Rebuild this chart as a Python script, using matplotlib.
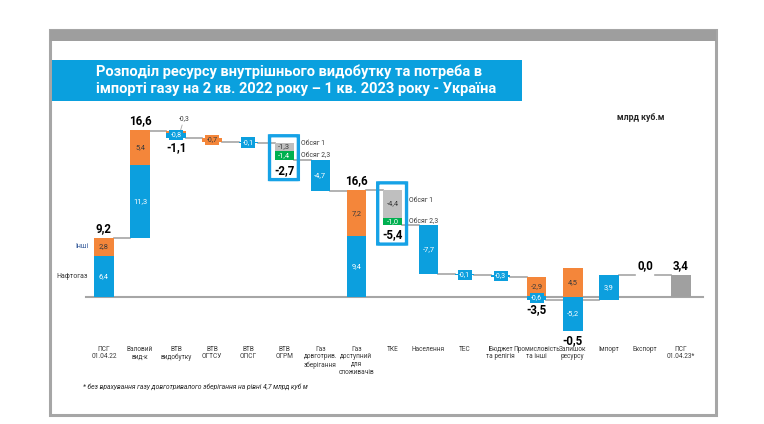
import matplotlib
matplotlib.use("Agg")
import matplotlib.pyplot as plt
from matplotlib.patches import Rectangle, FancyBboxPatch
from matplotlib.transforms import Affine2D

plt.rcParams['font.family'] = ['Roboto', 'DejaVu Sans']

# ---- data ----
categories = ['ПСГ\n01.04.22', 'Валовий\nвид-к', 'ВТВ\nвидобутку', 'ВТВ\nОГТСУ', 'ВТВ\nОПСГ',
              'ВТВ\nОГРМ', 'Газ\nдовготрив.\nзберігання', 'Газ\nдоступний\nдля\nспоживачів',
              'ТКЕ', 'Населення', 'ТЕС', 'Бюджет\nта релігія', 'Промисловість\nта інші',
              'Залишок\nресурсу', 'Імпорт', 'Експорт', 'ПСГ\n01.04.23*']

# segments of each bar, stacked in drawing order
seg_values = [[6.4, 2.8], [11.3, 5.4], [-0.3, -0.8], [-0.7], [-0.1], [-1.3, -1.4], [-4.7],
              [9.4, 7.2], [-4.4, -1.0], [-7.7], [-0.1], [-0.3], [-2.9, -0.6], [4.5, -5.2],
              [3.9], [0.0], [3.4]]
seg_groups = [['Нафтогаз', 'Інші'], ['Нафтогаз', 'Інші'], ['Інші', 'Нафтогаз'], ['Інші'],
              ['Нафтогаз'], ['Обсяг 1', 'Обсяг 2,3'], ['Нафтогаз'], ['Нафтогаз', 'Інші'],
              ['Обсяг 1', 'Обсяг 2,3'], ['Нафтогаз'], ['Нафтогаз'], ['Нафтогаз'],
              ['Інші', 'Нафтогаз'], ['Інші', 'Нафтогаз'], ['Нафтогаз'], ['Нафтогаз'], ['Підсумок']]

# net value of each step; "total" steps start from zero
net_values = [9.2, 16.6, -1.1, -0.7, -0.1, -2.7, -4.7, 16.6, -5.4, -7.7, -0.1, -0.3, -3.5,
              -0.5, 3.9, 0.0, 3.4]
is_total = [True, False, False, False, False, False, False, True, False, False, False, False,
            False, True, False, False, True]
net_labels = ['9,2', '16,6', '-1,1', None, None, '-2,7', None, '16,6', '-5,4', None, None, None,
              '-3,5', '-0,5', None, '0,0', '3,4']
highlighted = [5, 8]

title = ('Розподіл ресурсу внутрішнього видобутку та потреба в\n'
         'імпорті газу на 2 кв. 2022 року – 1 кв. 2023 року - Україна')
unit_text = 'млрд куб.м'
footnote = '* без врахування газу довготривалого зберігання на рівні 4,7 млрд куб м'

colors = {'Нафтогаз': '#0C9FDE', 'Інші': '#F4863A', 'Обсяг 1': '#BFBFBF',
          'Обсяг 2,3': '#00B050', 'Підсумок': '#A0A0A0'}
text_on = {'Нафтогаз': 'white', 'Інші': '#3A3A3A', 'Обсяг 1': '#3A3A3A',
           'Обсяг 2,3': 'white', 'Підсумок': '#3A3A3A'}

# ---- layout ----
W, H = 764, 424
X0, DX = 104, 36.06      # pixel of first category, pixels per category
Y0, DY = 297, 6.45       # pixel of zero line, pixels per unit
BW = 0.54

fig = plt.figure(figsize=(W / 100, H / 100), dpi=100)
ax = fig.add_axes([0, 0, 1, 1])
ax.set_xlim(-X0 / DX, (W - X0) / DX)
ax.set_ylim(-(H - Y0) / DY, Y0 / DY)
ax.axis('off')

px = Affine2D().scale(1 / W, -1 / H).translate(0, 1) + fig.transFigure

# frame
fig.add_artist(Rectangle((50, 30), 666, 385, transform=px, fill=False, ec='#A6A6A6', lw=2.2))
fig.add_artist(Rectangle((50, 30), 666, 11, transform=px, fc='#9E9E9E', ec='none'))
# title
fig.add_artist(Rectangle((52, 60), 470, 41, transform=px, fc='#0AA0DE', ec='none'))
fig.text(96 / W, 1 - 80.5 / H, title, color='white', fontsize=10.5, fontweight='bold',
         va='center', ha='left', linespacing=1.3)
fig.text(641 / W, 1 - 118 / H, unit_text, fontsize=6.3, fontweight='bold', color='#262626',
         ha='center', va='center')
fig.text(83 / W, 1 - 387 / H, footnote, fontsize=4.9, style='italic', color='#262626',
         ha='left', va='center')

# zero line
ax.plot([-0.5, 16.6], [0, 0], color='#A6A6A6', lw=1.5, zorder=1)

level = 0.0
levels = []
spans = []
for i, (vals, groups) in enumerate(zip(seg_values, seg_groups)):
    start = 0.0 if is_total[i] else level
    up = down = cur = start
    lo = hi = start
    for v, g in zip(vals, groups):
        if is_total[i]:
            # totals: positive parts go up from zero, negative parts go down
            if v >= 0:
                b, up = up, up + v
            else:
                b, down = down, down + v
        else:
            b, cur = cur, cur + v
        lo, hi = min(lo, b, b + v), max(hi, b, b + v)
        if v == 0:
            continue
        ax.bar(i, v, bottom=b, width=BW, color=colors[g], lw=0, zorder=3)
        if g == 'Підсумок':
            continue
        mid = b + v / 2
        lab = f'{v:.1f}'.replace('.', ',')
        if i == 2 and g == 'Інші':
            ax.annotate(lab, (i + 0.12, b), xytext=(i + 0.22, b + 1.3), fontsize=4.9,
                        color='#3A3A3A', ha='center', va='bottom',
                        arrowprops=dict(arrowstyle='-', color='#A6A6A6', lw=0.6,
                                        shrinkA=0, shrinkB=0))
        elif abs(v) < 0.95:
            ax.text(i, mid, lab, fontsize=5.0, color=text_on[g], ha='center', va='center',
                    zorder=5, bbox=dict(boxstyle='square,pad=0.22', fc=colors[g], ec='none'))
        else:
            ax.text(i, mid, lab, fontsize=5.4, color=text_on[g], ha='center', va='center',
                    zorder=5)
    level = net_values[i] if is_total[i] else start + net_values[i]
    levels.append(level)
    spans.append((start, lo, hi))

    if net_labels[i]:
        if net_values[i] >= 0:
            ax.annotate(net_labels[i], (i, hi), xytext=(0, 2), textcoords='offset points',
                        ha='center', va='bottom', fontsize=8.3, fontweight='bold',
                        color='black', zorder=6)
        else:
            ax.annotate(net_labels[i], (i, lo), xytext=(0, -2.5), textcoords='offset points',
                        ha='center', va='top', fontsize=8.3, fontweight='bold',
                        color='black', zorder=6)

# connectors between neighbouring bars
for i in range(len(categories) - 1):
    ax.plot([i + BW / 2, i + 1 - BW / 2], [levels[i], levels[i]], color='#A6A6A6',
            lw=1.2, zorder=2)

# highlight boxes around the split consumption steps
for i in highlighted:
    start, lo, hi = spans[i]
    box = FancyBboxPatch((i - 0.41, lo - 3.0), 0.8, hi - lo + 4.1,
                         boxstyle='round,pad=0,rounding_size=0.05', fill=False,
                         ec='#16A2E6', lw=2.4, zorder=7, mutation_aspect=1 / 6)
    ax.add_patch(box)
    b1 = start + seg_values[i][0] / 2
    b2 = start + seg_values[i][0] + seg_values[i][1] / 2
    ax.text(i + 0.47, b1 + 0.5, seg_groups[i][0], fontsize=4.9, color='#3A3A3A',
            ha='left', va='center')
    ax.text(i + 0.47, b2, seg_groups[i][1], fontsize=4.9, color='#3A3A3A',
            ha='left', va='center')

# legend-like labels at the first bar
ax.text(-BW / 2 - 0.17, seg_values[0][0] + seg_values[0][1] / 2, 'Інші', fontsize=5.0,
        color='#2F5597', ha='right', va='center')
ax.text(-BW / 2 - 0.17, seg_values[0][0] / 2, 'Нафтогаз', fontsize=5.0, color='#3A3A3A',
        ha='right', va='center')

# category labels
for i, c in enumerate(categories):
    ax.text(i, -(346 - Y0) / DY, c, fontsize=4.7, color='#3A3A3A', ha='center', va='top',
            linespacing=1.1)

fig.savefig('out.png', dpi=100)
